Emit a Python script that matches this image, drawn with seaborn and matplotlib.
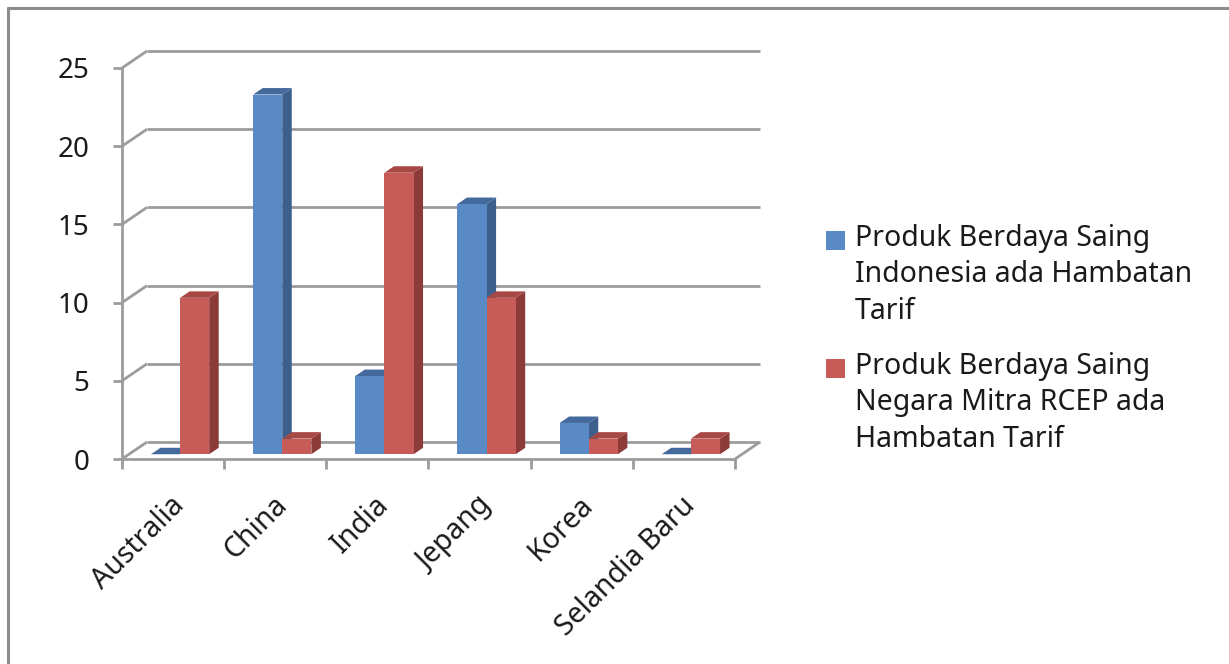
import numpy as np
import pandas as pd
import matplotlib
matplotlib.use("Agg")
import matplotlib.pyplot as plt
import matplotlib.transforms as mtrans
from matplotlib.patches import Polygon, Rectangle
from matplotlib.lines import Line2D
import seaborn as sns

# ---------------- data ----------------
countries = ["Australia", "China", "India", "Jepang", "Korea", "Selandia Baru"]
indonesia_values = [0, 23, 5, 16, 2, 0]
rcep_values = [10, 1, 18, 10, 1, 1]
series_labels = [
    "Produk Berdaya Saing\nIndonesia ada Hambatan\nTarif",
    "Produk Berdaya Saing\nNegara Mitra RCEP ada\nHambatan Tarif",
]
y_ticks = [0, 5, 10, 15, 20, 25]

# ---------------- style ----------------
sns.set_style("white")
plt.rcParams["font.family"] = ["Noto Sans", "DejaVu Sans"]

FRONT = ["#5a8ac6", "#c75b57"]
SIDE = ["#3d5f8c", "#8c3b39"]
TOP = ["#44699c", "#a84845"]
GRID = "#9c9c9c"
TEXT = "#1a1a1a"

df = pd.concat([
    pd.DataFrame({"Negara": countries, "Jumlah": indonesia_values, "Seri": series_labels[0]}),
    pd.DataFrame({"Negara": countries, "Jumlah": rcep_values, "Seri": series_labels[1]}),
], ignore_index=True)

W, H = 1229, 664
fig = plt.figure(figsize=(W / 100, H / 100), dpi=100)
ax = fig.add_axes([122 / W, (H - 459) / H, 613 / W, 391 / H])
ax.set_facecolor("none")

sns.barplot(data=df, x="Negara", y="Jumlah", hue="Seri", hue_order=series_labels,
            order=countries, palette=FRONT, saturation=1, width=0.57, gap=0,
            linewidth=0, legend=False, ax=ax)

ax.set_xlim(-0.5, len(countries) - 0.5)
ax.set_ylim(0, 25)
ax.set_xlabel("")
ax.set_ylabel("")

# depth vector of the 3D box in pixels
D = np.array([25.0, 17.0])
F0, F1 = 0.28, 0.66  # bar front / back depth fractions

def disp(x, y, frac):
    p = ax.transData.transform((x, y))
    return p + frac * D

ident = mtrans.IdentityTransform()

def add_line(p0, p1, z=1, color=GRID, lw=2.0):
    ax.add_line(Line2D([p0[0], p1[0]], [p0[1], p1[1]], transform=ident,
                       color=color, lw=lw, clip_on=False, zorder=z,
                       solid_capstyle="butt"))

# back wall gridlines + left wall connectors
for v in y_ticks:
    add_line(disp(-0.5, v, 1), disp(len(countries) - 0.5, v, 1), z=1)
    add_line(disp(-0.5, v, 0), disp(-0.5, v, 1), z=1)
# floor right edge
add_line(disp(len(countries) - 0.5, 0, 0), disp(len(countries) - 0.5, 0, 1), z=1)

# bars: front faces from seaborn, plus side and top faces
bars = sorted([p for p in ax.patches if isinstance(p, Rectangle)], key=lambda p: p.get_x())
shift = mtrans.ScaledTranslation(F0 * D[0] / 100, F0 * D[1] / 100, fig.dpi_scale_trans)
for i, p in enumerate(bars):
    fc = matplotlib.colors.to_hex(p.get_facecolor())
    k = 0 if fc.lower() == FRONT[0] else 1
    x, w, h = p.get_x(), p.get_width(), p.get_height()
    z = 3 + i * 0.1
    p.set_transform(ax.transData + shift)
    p.set_clip_on(False)
    p.set_zorder(z)
    side = [disp(x + w, 0, F0), disp(x + w, h, F0), disp(x + w, h, F1), disp(x + w, 0, F1)]
    top = [disp(x, h, F0), disp(x + w, h, F0), disp(x + w, h, F1), disp(x, h, F1)]
    ax.add_patch(Polygon(side, closed=True, transform=ident, facecolor=SIDE[k],
                         edgecolor="none", clip_on=False, zorder=z - 0.01))
    ax.add_patch(Polygon(top, closed=True, transform=ident, facecolor=TOP[k],
                         edgecolor="none", clip_on=False, zorder=z - 0.01))

# spines / ticks
for s in ["top", "right"]:
    ax.spines[s].set_visible(False)
for s in ["left", "bottom"]:
    ax.spines[s].set_color(GRID)
    ax.spines[s].set_linewidth(2.0)
    ax.spines[s].set_zorder(10)

ax.set_yticks(y_ticks)
ax.set_yticklabels([str(t) for t in y_ticks])
ax.tick_params(axis="y", length=6.5, width=2.0, color=GRID, pad=17,
               labelsize=20, labelcolor=TEXT, left=True)

ax.set_xticks(np.arange(len(countries) + 1) - 0.5)
ax.set_xticklabels([""] * (len(countries) + 1))
ax.tick_params(axis="x", which="major", length=7.5, width=2.0, color=GRID, bottom=True)
ax.set_xticks(np.arange(len(countries)), minor=True)
ax.set_xticklabels(countries, minor=True, rotation=45, ha="right",
                   rotation_mode="anchor", fontsize=20.5, color=TEXT)
ax.tick_params(axis="x", which="minor", length=0, pad=23)
lab_shift = mtrans.ScaledTranslation(-3 / 100, 0, fig.dpi_scale_trans)
for lab in ax.get_xticklabels(minor=True):
    lab.set_va("top")
    lab.set_transform(lab.get_transform() + lab_shift)

# legend (manual, like the original)
leg_tops = [224, 352]
for k in range(2):
    fig.add_artist(Rectangle((826 / W, (H - leg_tops[k] - 26) / H), 19 / W, 19 / H,
                             transform=fig.transFigure, facecolor=FRONT[k],
                             edgecolor="none"))
    fig.text(855 / W, 1 - leg_tops[k] / H, series_labels[k], ha="left", va="top",
             fontsize=20.5, color=TEXT, linespacing=1.33)

# outer frame (top and left edges visible)
fig.add_artist(Line2D([8 / W, 1.01], [1 - 8 / H, 1 - 8 / H], transform=fig.transFigure,
                      color="#8c8c8c", lw=2.2))
fig.add_artist(Line2D([8 / W, 8 / W], [1 - 8 / H, -0.01], transform=fig.transFigure,
                      color="#8c8c8c", lw=2.2))

fig.savefig("out.png", dpi=100, facecolor="white")
